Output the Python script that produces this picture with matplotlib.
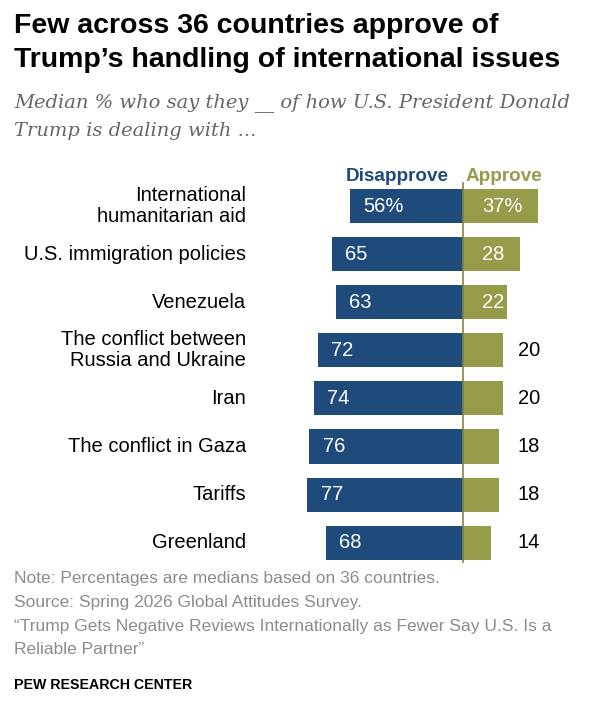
import matplotlib
matplotlib.use("Agg")
import matplotlib.pyplot as plt

# data
issues = ["International\nhumanitarian aid", "U.S. immigration policies", "Venezuela",
          "The conflict between\nRussia and Ukraine", "Iran", "The conflict in Gaza",
          "Tariffs", "Greenland"]
disapprove = [56, 65, 63, 72, 74, 76, 77, 68]
approve = [37, 28, 22, 20, 20, 18, 18, 14]

BLUE = "#1F4A7C"
OLIVE = "#969C4A"
GREY = "#8C8C8C"

W, H = 598, 710
plt.rcParams["font.family"] = ["Liberation Sans", "DejaVu Sans"]
fig = plt.figure(figsize=(W / 100, H / 100), dpi=100)


def fx(px):
    return px / W


def fy(py):
    return 1 - py / H


# header
fig.text(fx(14), fy(26), "Few across 36 countries approve of", fontsize=20.5,
         fontweight="bold", va="center", ha="left")
fig.text(fx(14), fy(60), "Trump\u2019s handling of international issues", fontsize=20.5,
         fontweight="bold", va="center", ha="left")
fig.text(fx(14), fy(103), "Median % who say they __ of how U.S. President Donald",
         fontsize=14.0, style="italic", family="DejaVu Serif", color="#666666",
         va="center", ha="left")
fig.text(fx(14), fy(131), "Trump is dealing with ...",
         fontsize=14.0, style="italic", family="DejaVu Serif", color="#666666",
         va="center", ha="left")

# chart axes: 2.02 px per point, center line at x=463px
scale = 2.02
x0 = 463
row0, step = 206, 48.1
top_px, bot_px = 160, 570
ax = fig.add_axes([0, fy(bot_px), 1, (bot_px - top_px) / H])
ax.set_xlim(-x0 / scale, (W - x0) / scale)
ax.set_ylim((bot_px - row0) / step, (top_px - row0) / step)
ax.axis("off")

ys = list(range(len(issues)))
ax.barh(ys, [-d for d in disapprove], height=0.71, color=BLUE)
ax.barh(ys, approve, height=0.71, color=OLIVE)
ax.plot([0, 0], [(183 - row0) / step, (562 - row0) / step], color="#7F8440", lw=1.2)

fs = 14.5
for i, (name, d, a) in enumerate(zip(issues, disapprove, approve)):
    ax.text((246 - x0) / scale, i, name, ha="right", va="center", fontsize=fs,
            linespacing=1.15)
    dl = f"{d}%" if i == 0 else str(d)
    al = f"{a}%" if i == 0 else str(a)
    ax.text(-d + 6.8, i, dl, ha="left", va="center", color="white", fontsize=fs)
    if a > 20 or i == 0:
        ax.text(9.5, i, al, ha="left", va="center", color="white", fontsize=fs)
    else:
        ax.text(27, i, al, ha="left", va="center", color="black", fontsize=fs)

hy = (176 - row0) / step
ax.text(-6.9, hy, "Disapprove", ha="right", va="center", color=BLUE,
        fontsize=13.6, fontweight="bold")
ax.text(1.5, hy, "Approve", ha="left", va="center", color=OLIVE,
        fontsize=13.6, fontweight="bold")

# footer
notes = ["Note: Percentages are medians based on 36 countries.",
         "Source: Spring 2026 Global Attitudes Survey.",
         "\u201cTrump Gets Negative Reviews Internationally as Fewer Say U.S. Is a",
         "Reliable Partner\u201d"]
for k, line in enumerate(notes):
    fig.text(fx(14), fy(578 + 24 * k), line, fontsize=12.5, color=GREY,
             va="center", ha="left")
fig.text(fx(14), fy(685), "PEW RESEARCH CENTER", fontsize=10.2, fontweight="bold",
         va="center", ha="left")

fig.savefig("out.png", dpi=100)
